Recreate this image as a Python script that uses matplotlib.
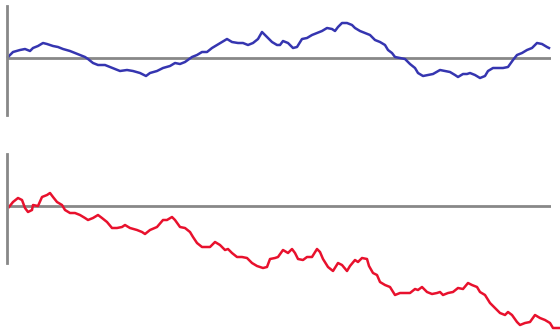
import matplotlib
matplotlib.use("Agg")
import matplotlib.pyplot as plt

# Blue random walk: time step and value
blue_t = [0, 5, 12, 17, 22, 25, 30, 35, 39, 45,
          50, 55, 62, 67, 72, 77, 80, 85, 90, 97,
          102, 107, 112, 119, 125, 132, 138, 142, 149, 155,
          162, 167, 172, 177, 184, 189, 194, 199, 204, 209,
          214, 219, 224, 230, 235, 240, 245, 250, 254, 259,
          264, 269, 272, 275, 280, 285, 289, 294, 299, 304,
          309, 314, 319, 324, 327, 330, 334, 339, 344, 347,
          352, 357, 362, 367, 372, 377, 380, 384, 387, 392,
          397, 402, 407, 410, 415, 420, 425, 432, 437, 442,
          447, 450, 455, 459, 462, 467, 472, 477, 480, 485,
          490, 495, 500, 505, 509, 514, 519, 524, 529, 534,
          539, 541]
blue_v = [0.01, 0.11, 0.15, 0.17, 0.13, 0.19, 0.23, 0.29, 0.27, 0.23,
          0.21, 0.17, 0.13, 0.09, 0.05, 0.01, -0.03, -0.11, -0.15, -0.15,
          -0.19, -0.23, -0.27, -0.25, -0.27, -0.31, -0.37, -0.31, -0.27, -0.21,
          -0.17, -0.11, -0.13, -0.09, 0.01, 0.05, 0.11, 0.11, 0.19, 0.25,
          0.31, 0.37, 0.31, 0.29, 0.29, 0.25, 0.29, 0.37, 0.51, 0.41,
          0.31, 0.25, 0.25, 0.33, 0.29, 0.19, 0.21, 0.37, 0.39, 0.45,
          0.49, 0.53, 0.59, 0.57, 0.53, 0.61, 0.69, 0.69, 0.65, 0.59,
          0.53, 0.49, 0.45, 0.35, 0.31, 0.25, 0.15, 0.09, 0.01, -0.01,
          -0.03, -0.13, -0.21, -0.31, -0.37, -0.35, -0.33, -0.25, -0.27, -0.29,
          -0.35, -0.39, -0.33, -0.33, -0.31, -0.35, -0.41, -0.37, -0.27, -0.21,
          -0.21, -0.21, -0.19, -0.05, 0.05, 0.09, 0.15, 0.19, 0.29, 0.27,
          0.21, 0.19]

# Red random walk: time step and value
red_t = [1, 5, 10, 14, 17, 20, 24, 25, 30, 34,
         39, 42, 45, 49, 54, 57, 62, 67, 72, 77,
         80, 85, 90, 94, 99, 104, 109, 114, 117, 122,
         129, 134, 137, 142, 149, 155, 159, 164, 167, 172,
         177, 182, 185, 189, 194, 199, 202, 207, 212, 217,
         220, 224, 229, 234, 239, 244, 249, 255, 259, 262,
         267, 270, 275, 280, 284, 287, 290, 295, 299, 304,
         309, 312, 315, 320, 325, 330, 334, 339, 342, 347,
         350, 354, 359, 361, 365, 369, 372, 377, 382, 387,
         392, 397, 402, 407, 410, 414, 419, 424, 429, 432,
         435, 440, 445, 450, 455, 460, 464, 469, 472, 477,
         482, 487, 492, 497, 500, 504, 509, 512, 517, 522,
         527, 532, 537, 542, 545, 552]
red_v = [-0.02, 0.08, 0.16, 0.12, -0.04, -0.12, -0.08, 0.02, 0.00, 0.18,
         0.22, 0.26, 0.18, 0.08, 0.02, -0.08, -0.14, -0.14, -0.18, -0.24,
         -0.28, -0.24, -0.18, -0.24, -0.32, -0.44, -0.44, -0.42, -0.38, -0.44,
         -0.48, -0.52, -0.56, -0.48, -0.42, -0.28, -0.28, -0.22, -0.28, -0.42,
         -0.44, -0.52, -0.62, -0.74, -0.82, -0.82, -0.82, -0.72, -0.78, -0.88,
         -0.86, -0.94, -1.02, -1.02, -1.04, -1.14, -1.20, -1.24, -1.22, -1.06,
         -1.04, -1.02, -0.88, -0.94, -0.86, -0.94, -1.06, -1.08, -1.02, -1.02,
         -0.86, -0.92, -1.06, -1.22, -1.30, -1.14, -1.18, -1.30, -1.20, -1.08,
         -1.12, -1.04, -1.06, -1.20, -1.34, -1.38, -1.52, -1.58, -1.62, -1.78,
         -1.74, -1.74, -1.74, -1.66, -1.68, -1.62, -1.72, -1.76, -1.74, -1.72,
         -1.78, -1.74, -1.72, -1.64, -1.66, -1.54, -1.58, -1.62, -1.72, -1.78,
         -1.94, -2.04, -2.14, -2.18, -2.12, -2.18, -2.32, -2.38, -2.34, -2.32,
         -2.18, -2.24, -2.28, -2.34, -2.44, -2.44]

BLUE = "#3535b0"
RED = "#e8112d"
AXIS = "#888888"
W, H = 560, 331

fig = plt.figure(figsize=(W / 100, H / 100), dpi=100)


def panel(top_px, bottom_px, zero_px, t, v, color):
    left_px, right_px = 7, 551
    ax = fig.add_axes([left_px / W, 1 - bottom_px / H,
                       (right_px - left_px) / W, (bottom_px - top_px) / H])
    scale = 50.0
    ax.set_xlim(-1, 543)
    ax.set_ylim(-(bottom_px - zero_px) / scale, (zero_px - top_px) / scale)
    for side in ("top", "right", "bottom"):
        ax.spines[side].set_visible(False)
    ax.spines["left"].set_color(AXIS)
    ax.spines["left"].set_linewidth(2)
    ax.set_xticks([])
    ax.set_yticks([])
    ax.axhline(0, color=AXIS, lw=2, zorder=1)
    ax.plot(t, v, color=color, lw=1.8, clip_on=False, zorder=2,
            solid_joinstyle="round")
    ax.patch.set_alpha(0)
    return ax


panel(6, 115, 57.5, blue_t, blue_v, BLUE)
panel(154, 263, 206, red_t, red_v, RED)

fig.savefig("out.png", dpi=100)
